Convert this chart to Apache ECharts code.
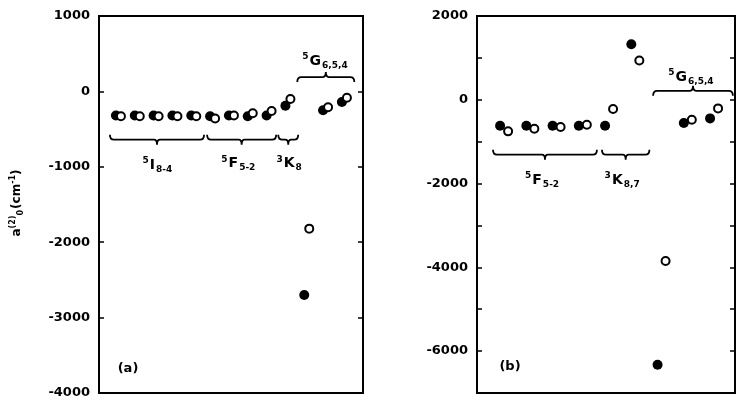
<!DOCTYPE html>
<html>
<head>
<meta charset="utf-8">
<script src="https://cdn.jsdelivr.net/npm/echarts@6/dist/echarts.min.js"></script>
<style>html,body{margin:0;padding:0;background:#fff}#c{width:737px;height:400px}</style>
</head>
<body>
<div id="c"></div>
<script>
// ---------- DATA ----------
// Panel (a): level index, filled (calc) and open (exp) values, cm^-1
var levelsA = [0, 1, 2, 3, 4, 5, 6, 7, 8, 9, 10, 11, 12];
var filledA = [-320, -320, -320, -320, -320, -330, -320, -330, -320, -190, -2700, -250, -140];
var openA   = [-330, -330, -330, -330, -330, -360, -320, -290, -260, -100, -1820, -210, -85];

// Panel (b)
var levelsB = [0, 1, 2, 3, 4, 5, 6, 7, 8];
var filledB = [-620, -620, -620, -620, -620, 1325, -6325, -556, -444];
var openB   = [-754, -690, -651, -595, -222, 937, -3849, -476, -206];

// Y tick settings
var yMinA = -4000, yMaxA = 1000, yStepA = 1000;
var yMinB = -7000, yMaxB = 2000, yStepB = 1000;

// Term-group braces: start, end (level index), value, direction (1 = below points, -1 = above)
var braceStartA = [-0.32, 4.84, 8.62, 9.63];
var braceEndA   = [4.68, 8.51, 9.68, 12.66];
var braceYA     = [-640, -640, -640, 190];
var braceDirA   = [1, 1, 1, -1];
var braceTextA  = ['{sup|5}{m|I}{sub|8-4}', '{sup|5}{m|F}{sub|5-2}', '{sup|3}{m|K}{sub|8}', '{sup|5}{m|G}{sub|6,5,4}'];
var braceTextXA = [2.2, 6.5, 9.2, 11.1];
var braceTextYA = [-980, -960, -960, 400];

var braceStartB = [-0.27, 3.88, 5.83];
var braceEndB   = [3.69, 5.69, 8.87];
var braceYB     = [-1310, -1310, 214];
var braceDirB   = [1, 1, -1];
var braceTextB  = ['{sup|5}{m|F}{sub|5-2}', '{sup|3}{m|K}{sub|8,7}', '{sup|5}{m|G}{sub|6,5,4}'];
var braceTextXB = [1.6, 4.65, 7.27];
var braceTextYB = [-1920, -1920, 540];

// ---------- BUILD ----------
function zip(xs, ys) { return xs.map(function (x, i) { return [x, ys[i]]; }); }
function braces(s, e, y, d) { return s.map(function (v, i) { return [v, e[i], y[i], d[i]]; }); }
function texts(x, y, t) { return x.map(function (v, i) { return [v, y[i], t[i]]; }); }

var FONT = 'DejaVu Sans';
var rich = {
  m:   { fontFamily: FONT, fontSize: 14, fontWeight: 'bold', color: '#000', lineHeight: 20, verticalAlign: 'middle' },
  sup: { fontFamily: FONT, fontSize: 9, fontWeight: 'bold', color: '#000', padding: [0, 1, 9, 0] },
  sub: { fontFamily: FONT, fontSize: 9, fontWeight: 'bold', color: '#000', padding: [8, 0, 0, 1] }
};
var richTitle = {
  m:   { fontFamily: FONT, fontSize: 12, fontWeight: 'bold', color: '#000', lineHeight: 18, verticalAlign: 'middle' },
  sup: { fontFamily: FONT, fontSize: 8, fontWeight: 'bold', color: '#000', padding: [0, 0, 8, 0] },
  sub: { fontFamily: FONT, fontSize: 8, fontWeight: 'bold', color: '#000', padding: [7, 1, 0, 0] }
};

function braceRender(params, api) {
  var x1 = api.value(0), x2 = api.value(1), y = api.value(2), d = api.value(3);
  var p1 = api.coord([x1, y]), p2 = api.coord([x2, y]);
  var ya = p1[1], xa = p1[0], xb = p2[0], xm = (xa + xb) / 2;
  var h = 5 * d, t = 5 * d;
  var path = 'M' + xa + ',' + (ya - h) +
    ' Q' + xa + ',' + ya + ' ' + (xa + 4) + ',' + ya +
    ' L' + (xm - 3) + ',' + ya +
    ' Q' + xm + ',' + ya + ' ' + xm + ',' + (ya + t) +
    ' Q' + xm + ',' + ya + ' ' + (xm + 3) + ',' + ya +
    ' L' + (xb - 4) + ',' + ya +
    ' Q' + xb + ',' + ya + ' ' + xb + ',' + (ya - h);
  return { type: 'path', shape: { pathData: path }, style: { stroke: '#000', lineWidth: 1.8, fill: null } };
}

function yAxis(idx, min, max, step, showEvery, right) {
  return {
    type: 'value', gridIndex: idx, min: min, max: max, interval: step,
    position: right ? 'right' : 'left',
    axisLine: { show: false, onZero: false },
    axisTick: { show: true, inside: true, length: 5, lineStyle: { color: '#000', width: 1.5 } },
    splitLine: { show: false },
    axisLabel: right ? { show: false } : {
      show: true, margin: 9, color: '#000', fontFamily: FONT, fontWeight: 'bold', fontSize: 13,
      formatter: function (v) { return (Math.round(v / step) % showEvery === 0) ? String(v) : ''; }
    }
  };
}
function xAxis(idx, min, max) {
  return { type: 'value', gridIndex: idx, min: min, max: max, show: true,
    axisLine: { show: false, onZero: false }, axisTick: { show: false }, axisLabel: { show: false }, splitLine: { show: false } };
}

var filledStyle = { color: '#000', opacity: 1 };
var openStyle = { color: '#fff', borderColor: '#000', borderWidth: 2, opacity: 1 };
var textLabel = { show: true, position: 'inside', color: '#000', opacity: 1,
  formatter: function (p) { return p.data[2]; }, rich: rich };

var chart = echarts.init(document.getElementById('c'), null, { renderer: 'canvas' });
chart.setOption({
  backgroundColor: '#fff',
  animation: false,
  grid: [
    { left: 99, top: 16, width: 264, height: 377, show: true, borderColor: '#000', borderWidth: 2, backgroundColor: 'transparent' },
    { left: 477, top: 16, width: 258, height: 377, show: true, borderColor: '#000', borderWidth: 2, backgroundColor: 'transparent' }
  ],
  xAxis: [xAxis(0, -0.9, 13.12), xAxis(1, -0.88, 8.95)],
  yAxis: [
    yAxis(0, yMinA, yMaxA, yStepA, 1, false), yAxis(0, yMinA, yMaxA, yStepA, 1, true),
    yAxis(1, yMinB, yMaxB, yStepB, 2, false), yAxis(1, yMinB, yMaxB, yStepB, 2, true)
  ],
  series: [
    { type: 'scatter', xAxisIndex: 0, yAxisIndex: 0, data: zip(levelsA, filledA), symbol: 'circle', symbolSize: 10, itemStyle: filledStyle, z: 3 },
    { type: 'scatter', xAxisIndex: 0, yAxisIndex: 0, data: zip(levelsA, openA), symbol: 'circle', symbolSize: 8, symbolOffset: [5, 0], itemStyle: openStyle, z: 4 },
    { type: 'scatter', xAxisIndex: 1, yAxisIndex: 2, data: zip(levelsB, filledB), symbol: 'circle', symbolSize: 10, itemStyle: filledStyle, z: 3 },
    { type: 'scatter', xAxisIndex: 1, yAxisIndex: 2, data: zip(levelsB, openB), symbol: 'circle', symbolSize: 8, symbolOffset: [8, 0], itemStyle: openStyle, z: 4 },
    { type: 'custom', xAxisIndex: 0, yAxisIndex: 0, data: braces(braceStartA, braceEndA, braceYA, braceDirA), renderItem: braceRender, silent: true },
    { type: 'custom', xAxisIndex: 1, yAxisIndex: 2, data: braces(braceStartB, braceEndB, braceYB, braceDirB), renderItem: braceRender, silent: true },
    { type: 'scatter', xAxisIndex: 0, yAxisIndex: 0, data: texts(braceTextXA, braceTextYA, braceTextA), symbolSize: 0, silent: true,
      itemStyle: { opacity: 1 }, label: textLabel },
    { type: 'scatter', xAxisIndex: 1, yAxisIndex: 2, data: texts(braceTextXB, braceTextYB, braceTextB), symbolSize: 0, silent: true,
      itemStyle: { opacity: 1 }, label: textLabel }
  ],
  graphic: [
    { type: 'text', x: 17, y: 203, rotation: Math.PI / 2,
      style: { text: '{m|a}{sup|(2)}{sub|0}{m|(cm}{sup|-1}{m|)}', rich: richTitle, align: 'center', verticalAlign: 'middle' } },
    { type: 'text', x: 128, y: 369, style: { text: '(a)', fontFamily: FONT, fontSize: 13, fontWeight: 'bold', fill: '#000', align: 'center', verticalAlign: 'middle' } },
    { type: 'text', x: 510, y: 367, style: { text: '(b)', fontFamily: FONT, fontSize: 13, fontWeight: 'bold', fill: '#000', align: 'center', verticalAlign: 'middle' } }
  ]
});
</script>
</body>
</html>
